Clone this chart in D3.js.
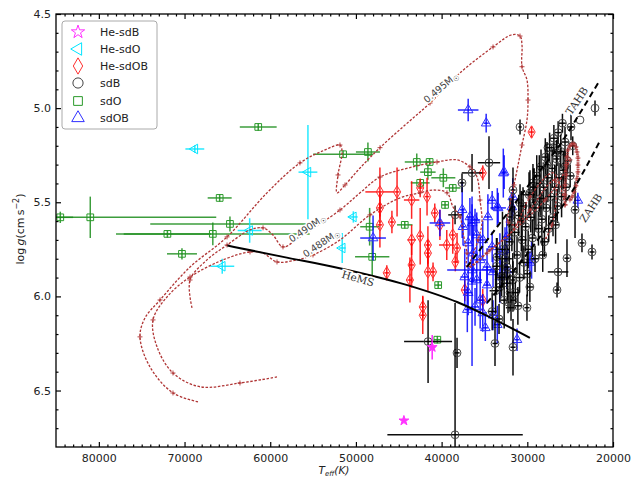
<!DOCTYPE html>
<html>
<head>
<meta charset="utf-8">
<script src="https://cdn.jsdelivr.net/npm/d3@7"></script>
<style>
body { margin: 0; background: #fff; }
svg { font-family: "DejaVu Sans", sans-serif; }
</style>
</head>
<body>
<script>
// axis ticks
const xTicks = [80000, 70000, 60000, 50000, 40000, 30000, 20000];
const yTicks = [4.5, 5.0, 5.5, 6.0, 6.5];

// [Teff, logg, Teff error, logg error]
const heSdB = [[44400, 6.66, 0, 0], [41100, 6.27, 400, 0.065]];

const heSdO = [
  [68800, 5.217, 1100, 0.02], [55600, 5.34, 1100, 0.25], [62400, 5.65, 1400, 0.065],
  [65600, 5.84, 1400, 0.04], [50300, 5.578, 500, 0.03], [51600, 5.743, 400, 0.08]
];

const heSdOB = [
  [35200, 5.344, 300, 0.04], [47200, 5.445, 1700, 0.13], [45200, 5.445, 300, 0.13],
  [43500, 5.488, 900, 0.1], [42500, 5.424, 300, 0.05], [47200, 5.53, 300, 0.08],
  [40800, 5.557, 300, 0.05], [45800, 5.605, 300, 0.06], [47200, 5.62, 300, 0.12],
  [42500, 5.68, 300, 0.15], [43500, 5.70, 500, 0.08], [41600, 5.727, 300, 0.1],
  [39400, 5.727, 900, 0.08], [38200, 5.743, 300, 0.08], [41600, 5.77, 300, 0.07],
  [38400, 5.817, 300, 0.05], [43500, 5.833, 300, 0.12], [46400, 5.875, 300, 0.04],
  [41600, 5.87, 300, 0.1], [43700, 5.913, 300, 0.12], [42200, 6.056, 300, 0.06],
  [42200, 6.10, 300, 0.1], [37300, 5.966, 300, 0.06], [35200, 6.02, 300, 0.06],
  [29500, 5.127, 300, 0.03], [38700, 5.674, 300, 0.1], [40200, 5.62, 300, 0.08],
  [41700, 5.47, 300, 0.1], [41000, 5.87, 300, 0.05]
];

const sdO = [
  [61400, 5.10, 2150, 0.02], [65900, 5.477, 1400, 0.02], [84500, 5.58, 1500, 0.03],
  [81000, 5.58, 14700, 0.11], [64700, 5.615, 9300, 0.04], [72000, 5.668, 5100, 0.02],
  [66700, 5.668, 11300, 0.06], [70300, 5.774, 1750, 0.03], [51500, 5.245, 3500, 0.02],
  [48600, 5.233, 1400, 0.05], [42900, 5.286, 1400, 0.045], [41400, 5.286, 500, 0.02],
  [41600, 5.34, 900, 0.04], [42500, 5.397, 1100, 0.02], [39800, 5.37, 1400, 0.05],
  [38700, 5.424, 900, 0.02], [39600, 5.514, 400, 0.02], [44300, 5.62, 900, 0.02],
  [48400, 5.63, 1100, 0.1], [48100, 5.79, 2000, 0.1], [40400, 5.94, 400, 0.02],
  [40500, 6.23, 400, 0.02]
];

const sdOB = [
  [36900, 5.01, 1200, 0.06], [34800, 5.08, 300, 0.05], [32700, 5.34, 300, 0.09],
  [34100, 5.49, 500, 0.05], [33400, 5.53, 900, 0.08], [32800, 5.345, 300, 0.13],
  [37600, 5.54, 300, 0.15], [36700, 5.578, 400, 0.1], [36100, 5.594, 600, 0.06],
  [40200, 5.61, 1200, 0.07], [48000, 5.69, 1500, 0.12], [36450, 5.61, 400, 0.1],
  [35900, 5.674, 500, 0.12], [36900, 5.716, 400, 0.14], [35200, 5.70, 600, 0.1],
  [34100, 5.737, 500, 0.08], [33200, 5.764, 400, 0.1], [36300, 5.77, 500, 0.15],
  [35500, 5.806, 700, 0.12], [34700, 5.844, 500, 0.1], [34000, 5.87, 400, 0.08],
  [36450, 5.86, 2900, 0.08], [37300, 5.897, 500, 0.15], [35900, 5.913, 600, 0.12],
  [34700, 5.94, 400, 0.1], [33200, 5.897, 500, 0.14], [32400, 5.86, 300, 0.1],
  [36900, 5.98, 500, 0.12], [35500, 6.02, 400, 0.15], [36100, 6.056, 500, 0.1],
  [37000, 6.07, 300, 0.12], [35200, 6.088, 500, 0.1], [34000, 6.10, 400, 0.08],
  [34900, 6.167, 300, 0.07], [33500, 6.15, 400, 0.1], [31200, 6.23, 300, 0.06],
  [29500, 5.806, 300, 0.1], [31700, 5.472, 300, 0.1], [31800, 5.525, 300, 0.08],
  [29700, 5.82, 300, 0.06], [24100, 5.49, 300, 0.04], [34600, 5.578, 400, 0.12],
  [33500, 5.525, 300, 0.1], [32400, 5.684, 400, 0.1], [32600, 5.753, 300, 0.12],
  [37500, 5.63, 300, 0.1], [36450, 5.92, 300, 0.45]
];

const sdB = [
  [22100, 5.00, 0, 0.04], [23850, 5.063, 0, 0], [30850, 5.10, 200, 0.04],
  [34470, 5.29, 1300, 0.14], [36450, 5.344, 1200, 0.1], [37620, 5.397, 300, 0.05],
  [38430, 5.567, 800, 0.05], [24430, 5.54, 300, 0.15], [23620, 5.716, 300, 0.05],
  [22450, 5.764, 300, 0.04], [25370, 5.797, 300, 0.1], [26410, 5.87, 1200, 0.1],
  [26530, 5.966, 300, 0.04], [41580, 6.24, 2800, 0.22], [38200, 6.30, 300, 0.08],
  [38430, 6.735, 7900, 0.7], [33770, 6.25, 300, 0.12], [31670, 6.27, 300, 0.15],
  [30040, 6.06, 300, 0.07], [27590, 5.21, 0, 0], [27000, 5.21, 0, 0], [26410, 5.222, 0, 0],
  [33530, 5.79, 300, 0.1], [32370, 5.844, 400, 0.12], [31670, 5.913, 300, 0.1],
  [33200, 5.95, 400, 0.08], [32020, 5.98, 300, 0.1], [32250, 6.03, 300, 0.06],
  [31670, 6.02, 300, 0.06], [26530, 5.238, 500, 0.07], [25600, 5.31, 400, 0.08],
  [29340, 5.397, 300, 0.1], [29690, 5.45, 300, 0.12], [31670, 5.435, 300, 0.12],
  [30850, 5.504, 300, 0.1], [32020, 5.578, 300, 0.1],
  [34100, 6.08, 500, 0.1], [33700, 5.97, 700, 0.12], [33300, 6.12, 400, 0.08],
  [33000, 5.90, 600, 0.1], [32700, 6.02, 500, 0.15], [32600, 5.80, 800, 0.1],
  [32300, 5.93, 400, 0.09], [31900, 6.06, 600, 0.07], [32100, 5.71, 500, 0.12],
  [31700, 5.87, 400, 0.1], [31400, 5.98, 500, 0.06], [31500, 5.66, 600, 0.14],
  [31200, 5.78, 400, 0.1], [30900, 5.90, 700, 0.08], [30600, 5.70, 500, 0.12],
  [31000, 5.57, 400, 0.11], [30400, 5.82, 600, 0.09], [30500, 5.52, 500, 0.1],
  [30200, 5.63, 400, 0.13], [29900, 5.75, 600, 0.1], [29600, 5.58, 500, 0.08],
  [29800, 5.46, 700, 0.12], [29400, 5.69, 400, 0.1], [29100, 5.80, 500, 0.07],
  [29300, 5.42, 400, 0.1], [29000, 5.53, 600, 0.12], [28700, 5.64, 500, 0.09],
  [28900, 5.36, 400, 0.11], [28500, 5.48, 700, 0.1], [28300, 5.59, 400, 0.14],
  [28000, 5.71, 500, 0.08], [28400, 5.31, 500, 0.09], [28100, 5.42, 400, 0.12],
  [27800, 5.53, 600, 0.1], [27500, 5.64, 500, 0.07], [27900, 5.26, 400, 0.1],
  [27600, 5.37, 500, 0.13], [27300, 5.47, 600, 0.09], [27000, 5.58, 400, 0.1],
  [27400, 5.21, 500, 0.08], [27100, 5.32, 400, 0.1], [26800, 5.42, 500, 0.12],
  [26500, 5.52, 400, 0.09], [26900, 5.16, 500, 0.07], [26600, 5.27, 400, 0.1],
  [26300, 5.37, 600, 0.08], [26000, 5.47, 400, 0.11], [26400, 5.13, 400, 0.06],
  [26100, 5.23, 500, 0.09], [25800, 5.33, 400, 0.1], [25500, 5.42, 500, 0.08],
  [25900, 5.08, 400, 0.05], [25600, 5.18, 500, 0.08], [25300, 5.28, 400, 0.07],
  [25000, 5.36, 500, 0.06], [30700, 5.60, 300, 0.16], [29200, 5.50, 300, 0.18],
  [28600, 5.40, 400, 0.15], [30000, 5.88, 400, 0.12], [31800, 5.62, 600, 0.14],
  [32900, 5.75, 800, 0.2], [33600, 5.84, 500, 0.15], [27700, 5.30, 300, 0.12],
  [26700, 5.62, 400, 0.1], [28200, 5.78, 500, 0.09], [29700, 5.95, 400, 0.08],
  [31100, 6.05, 500, 0.1], [24700, 5.20, 300, 0.05], [24900, 5.10, 400, 0.07]
];

// evolutionary tracks [Teff, logg]
const track495 = [
  [68430, 6.56], [71350, 6.513], [74030, 6.375], [75200, 6.215], [74610, 6.114],
  [72860, 6.019], [69360, 5.844], [65040, 5.684], [60380, 5.45], [56530, 5.291],
  [53610, 5.222], [51860, 5.196], [51620, 5.233], [52090, 5.355], [52210, 5.45],
  [51270, 5.408], [49520, 5.318], [47190, 5.21], [44270, 5.09], [41350, 4.973],
  [37850, 4.813], [34000, 4.675], [31780, 4.61], [30850, 4.617], [30620, 4.665],
  [30620, 4.78], [30040, 4.85], [29920, 4.957], [30040, 5.063], [30620, 5.196],
  [31080, 5.302], [31550, 5.408], [32020, 5.514], [32250, 5.605], [31430, 5.62],
  [29690, 5.541], [27590, 5.408], [26770, 5.382], [26650, 5.488], [27120, 5.62],
  [27930, 5.70]
];
const track490 = [
  [69130, 6.061], [69360, 5.913], [67380, 5.806], [65040, 5.727], [62360, 5.647],
  [60840, 5.636], [59680, 5.674], [58510, 5.737], [56530, 5.684], [51860, 5.541],
  [49520, 5.45], [47190, 5.366], [43340, 5.312], [40540, 5.286], [38200, 5.275],
  [36690, 5.312], [35870, 5.366], [35520, 5.488], [35290, 5.61], [35750, 5.70],
  [36690, 5.844], [34700, 5.77], [31670, 5.647], [29690, 5.472], [27000, 5.344],
  [25600, 5.514]
];
const track488 = [
  [59210, 6.428], [63530, 6.46], [68200, 6.48], [71350, 6.407], [73210, 6.268],
  [73680, 6.125], [72050, 6.003], [69360, 5.897], [65510, 5.806], [62360, 5.764],
  [60840, 5.77], [59210, 5.817], [56880, 5.806], [55010, 5.78], [51860, 5.70],
  [48360, 5.567], [44860, 5.477], [42520, 5.45], [41000, 5.435], [39370, 5.45],
  [38670, 5.525], [37850, 5.578], [37500, 5.663], [37040, 5.77], [37040, 5.844],
  [34350, 5.753], [30850, 5.62], [27930, 5.488], [26180, 5.382], [25020, 5.275]
];
// dense end of the tracks near the ZAHB
const hook = [
  [25600, 5.514], [25600, 5.461], [25600, 5.408], [25480, 5.355], [25480, 5.302],
  [25370, 5.259], [25250, 5.222], [25020, 5.201], [24780, 5.19], [24550, 5.19],
  [24320, 5.206], [24200, 5.233], [24090, 5.265], [24090, 5.302], [24090, 5.339],
  [24200, 5.376], [24320, 5.413], [24550, 5.445], [24780, 5.472], [25020, 5.488]
];

const heMS = [[65000, 5.73], [58500, 5.79], [51900, 5.85], [44000, 5.94], [38200, 6.03], [34400, 6.11], [29700, 6.22]];
const tahb = [[37040, 5.844], [33180, 5.61], [29690, 5.40], [25830, 5.17], [23850, 5.026], [21520, 4.85]];
const zahb = [[34700, 6.035], [28520, 5.684], [24670, 5.435], [21520, 5.174]];

let W = 638, H = 477;
let pLeft = 56, pRight = 613, pTop = 14, pBottom = 447;

let svg = d3.select("body").append("svg").attr("width", W).attr("height", H);

const x = d3.scaleLinear().domain([85000, 20000]).range([pLeft, pRight]);
const y = d3.scaleLinear().domain([4.5, 6.8]).range([pTop, pBottom]);

svg.append("clipPath").attr("id", "clip")
    .append("rect").attr("x", pLeft).attr("y", pTop)
    .attr("width", pRight - pLeft).attr("height", pBottom - pTop);

let plot = svg.append("g").attr("clip-path", "url(#clip)");

// scatter groups with error bars
const groups = [
    { name: "He-sdB", data: heSdB, shape: d3.symbolStar, color: "#ff00ff", mark: "#ff33ff", size: 30, rot: 0 },
    { name: "He-sdO", data: heSdO, shape: d3.symbolTriangle, color: "#00e5ff", mark: "#00e5ff", size: 40, rot: -90 },
    { name: "He-sdOB", data: heSdOB, shape: d3.symbolDiamond, color: "#ff0000", mark: "#ff3030", size: 45, rot: 0 },
    { name: "sdB", data: sdB, shape: d3.symbolCircle, color: "#000000", mark: "#444444", size: 48, rot: 0 },
    { name: "sdO", data: sdO, shape: d3.symbolSquare, color: "#1a8c1a", mark: "#2a9a2a", size: 45, rot: 0 },
    { name: "sdOB", data: sdOB, shape: d3.symbolTriangle, color: "#0000ff", mark: "#3030ff", size: 40, rot: 0 }
];

const drawOrder = ["sdO", "He-sdO", "He-sdOB", "sdOB", "sdB", "He-sdB"];

drawOrder.forEach((nm) => {
    let grp = groups.find((g) => g.name === nm);
    let op = nm === "sdB" ? 0.95 : 0.85;
    let gg = plot.append("g").attr("class", nm);
    let pts = gg.selectAll("g").data(grp.data).enter().append("g");
    pts.append("line")
        .attr("x1", (d) => x(d[0] - d[2])).attr("x2", (d) => x(d[0] + d[2]))
        .attr("y1", (d) => y(d[1])).attr("y2", (d) => y(d[1]))
        .attr("stroke", grp.color).attr("stroke-width", 1.5).attr("stroke-opacity", op);
    pts.append("line")
        .attr("x1", (d) => x(d[0])).attr("x2", (d) => x(d[0]))
        .attr("y1", (d) => y(d[1] - d[3])).attr("y2", (d) => y(d[1] + d[3]))
        .attr("stroke", grp.color).attr("stroke-width", 1.5).attr("stroke-opacity", op);
    pts.append("path")
        .attr("d", d3.symbol().type(grp.shape).size(grp.size))
        .attr("transform", (d) => `translate(${x(d[0])},${y(d[1])}) rotate(${grp.rot})`)
        .attr("fill", nm === "He-sdB" ? grp.mark : "none")
        .attr("stroke", grp.mark).attr("stroke-width", 1);
});

// evolutionary tracks
const trackColor = "#b03535";
let line = d3.line().x((d) => x(d[0])).y((d) => y(d[1])).curve(d3.curveCatmullRom.alpha(0.5));

[track495, track490, track488].forEach((t) => {
    plot.append("path").datum(t).attr("d", line)
        .attr("fill", "none").attr("stroke", trackColor)
        .attr("stroke-width", 1.3).attr("stroke-dasharray", "2.5,1.6");
    plot.append("g").selectAll("path").data(t.filter((d, i) => i % 2 === 1)).enter()
        .append("path").attr("d", "M-2.5,0H2.5M0,-2.5V2.5")
        .attr("transform", (d) => `translate(${x(d[0])},${y(d[1])})`)
        .attr("stroke", trackColor).attr("stroke-width", 0.9);
});
plot.append("path").datum(hook).attr("d", line)
    .attr("fill", "none").attr("stroke", trackColor).attr("stroke-width", 3)
    .attr("stroke-opacity", 0.8).attr("stroke-dasharray", "1.5,0.7");
plot.append("g").selectAll("path").data(hook).enter()
    .append("path").attr("d", "M-2.5,0H2.5M0,-2.5V2.5")
    .attr("transform", (d) => `translate(${x(d[0])},${y(d[1])})`)
    .attr("stroke", trackColor).attr("stroke-width", 0.9);

// HeMS, TAHB, ZAHB
let straight = d3.line().x((d) => x(d[0])).y((d) => y(d[1])).curve(d3.curveMonotoneX);
plot.append("path").datum(heMS).attr("d", straight)
    .attr("fill", "none").attr("stroke", "#000").attr("stroke-width", 2);
plot.append("path").datum(tahb).attr("d", straight)
    .attr("fill", "none").attr("stroke", "#000").attr("stroke-width", 2).attr("stroke-dasharray", "6,4");
plot.append("path").datum(zahb).attr("d", straight)
    .attr("fill", "none").attr("stroke", "#000").attr("stroke-width", 2).attr("stroke-dasharray", "6,4");

// inline labels
function massLabel(txt, cx, cy, ang) {
    let t = svg.append("text")
        .attr("transform", `translate(${cx},${cy}) rotate(${ang})`)
        .attr("text-anchor", "middle").attr("font-size", 9.5).attr("fill", "#444")
        .attr("stroke", "#fff").attr("stroke-width", 3).attr("paint-order", "stroke");
    t.append("tspan").text(txt + "M");
    t.append("tspan").attr("font-size", 7).attr("dy", 2).text("\u2609");
}
massLabel("0.495", 443, 90, -40);
massLabel("0.490", 309, 231, -34);
massLabel("0.488", 323, 246, -34);

function serifLabel(txt, cx, cy, ang) {
    svg.append("text")
        .attr("transform", `translate(${cx},${cy}) rotate(${ang})`)
        .attr("text-anchor", "middle").attr("font-family", "DejaVu Serif")
        .attr("font-size", 10.5).attr("fill", "#333")
        .attr("stroke", "#fff").attr("stroke-width", 3).attr("paint-order", "stroke")
        .text(txt);
}
serifLabel("HeMS", 357, 282, 16);
serifLabel("TAHB", 580, 103, -56);
serifLabel("ZAHB", 594, 210, -57);

// axes, ticks inward on all four sides
let xMinor = d3.range(21000, 85000, 1000).filter((v) => v % 10000 !== 0);
let yMinor = d3.range(4.6, 6.8, 0.1).filter((v) => Math.abs(v * 2 - Math.round(v * 2)) > 0.01);

function styleAxis(g) {
    g.select(".domain").remove();
    g.selectAll("line").attr("stroke", "#000").attr("stroke-width", 1.2);
    g.selectAll("text").attr("font-size", 11).attr("fill", "#222")
        .attr("font-family", "DejaVu Sans");
}

svg.append("g").attr("transform", `translate(0,${pBottom})`)
    .call(d3.axisBottom(x).tickValues(xTicks).tickSize(-5).tickSizeOuter(0).tickPadding(7).tickFormat(d3.format("d")))
    .call(styleAxis);
svg.append("g").attr("transform", `translate(0,${pBottom})`)
    .call(d3.axisBottom(x).tickValues(xMinor).tickSize(-2.5).tickSizeOuter(0).tickFormat(""))
    .call(styleAxis);
svg.append("g").attr("transform", `translate(0,${pTop})`)
    .call(d3.axisTop(x).tickValues(xTicks).tickSize(-5).tickSizeOuter(0).tickFormat(""))
    .call(styleAxis);
svg.append("g").attr("transform", `translate(0,${pTop})`)
    .call(d3.axisTop(x).tickValues(xMinor).tickSize(-2.5).tickSizeOuter(0).tickFormat(""))
    .call(styleAxis);
svg.append("g").attr("transform", `translate(${pLeft},0)`)
    .call(d3.axisLeft(y).tickValues(yTicks).tickSize(-5).tickSizeOuter(0).tickPadding(5).tickFormat(d3.format(".1f")))
    .call(styleAxis);
svg.append("g").attr("transform", `translate(${pLeft},0)`)
    .call(d3.axisLeft(y).tickValues(yMinor).tickSize(-2.5).tickSizeOuter(0).tickFormat(""))
    .call(styleAxis);
svg.append("g").attr("transform", `translate(${pRight},0)`)
    .call(d3.axisRight(y).tickValues(yTicks).tickSize(-5).tickSizeOuter(0).tickFormat(""))
    .call(styleAxis);
svg.append("g").attr("transform", `translate(${pRight},0)`)
    .call(d3.axisRight(y).tickValues(yMinor).tickSize(-2.5).tickSizeOuter(0).tickFormat(""))
    .call(styleAxis);

svg.append("rect").attr("x", pLeft).attr("y", pTop)
    .attr("width", pRight - pLeft).attr("height", pBottom - pTop)
    .attr("fill", "none").attr("stroke", "#000").attr("stroke-width", 1.3);

// axis titles
let yl = svg.append("text").attr("transform", "translate(24,229) rotate(-90)")
    .attr("text-anchor", "middle").attr("font-size", 11).attr("fill", "#222");
yl.append("tspan").text("log\u2009");
yl.append("tspan").attr("font-style", "italic").text("g");
yl.append("tspan").text("(cm\u2009s");
yl.append("tspan").attr("font-size", 8).attr("dy", -5).text("\u22122");
yl.append("tspan").attr("dy", 5).text(")");

let xl = svg.append("text").attr("x", 334).attr("y", 474)
    .attr("text-anchor", "middle").attr("font-size", 10.5).attr("fill", "#222")
    .attr("font-style", "italic");
xl.append("tspan").text("T");
xl.append("tspan").attr("font-size", 7).attr("dy", 2).text("eff");
xl.append("tspan").attr("dy", -2).text("(K)");

// legend
let legend = svg.append("g");
legend.append("rect").attr("x", 62).attr("y", 21).attr("width", 95).attr("height", 108)
    .attr("rx", 3).attr("fill", "#fff").attr("stroke", "#aaa").attr("stroke-width", 1);
const legendRows = [32, 49, 66, 83, 101, 118];
groups.forEach((grp, i) => {
    legend.append("path")
        .attr("d", d3.symbol().type(grp.shape).size(grp.name === "He-sdB" ? 55 : grp.size * 1.7))
        .attr("transform", `translate(78,${legendRows[i]}) rotate(${grp.rot})`)
        .attr("fill", "none").attr("stroke", grp.mark).attr("stroke-width", 1);
    legend.append("text").attr("x", 100).attr("y", legendRows[i] + 4)
        .attr("font-size", 11).attr("fill", "#222").text(grp.name);
});
</script>
</body>
</html>
